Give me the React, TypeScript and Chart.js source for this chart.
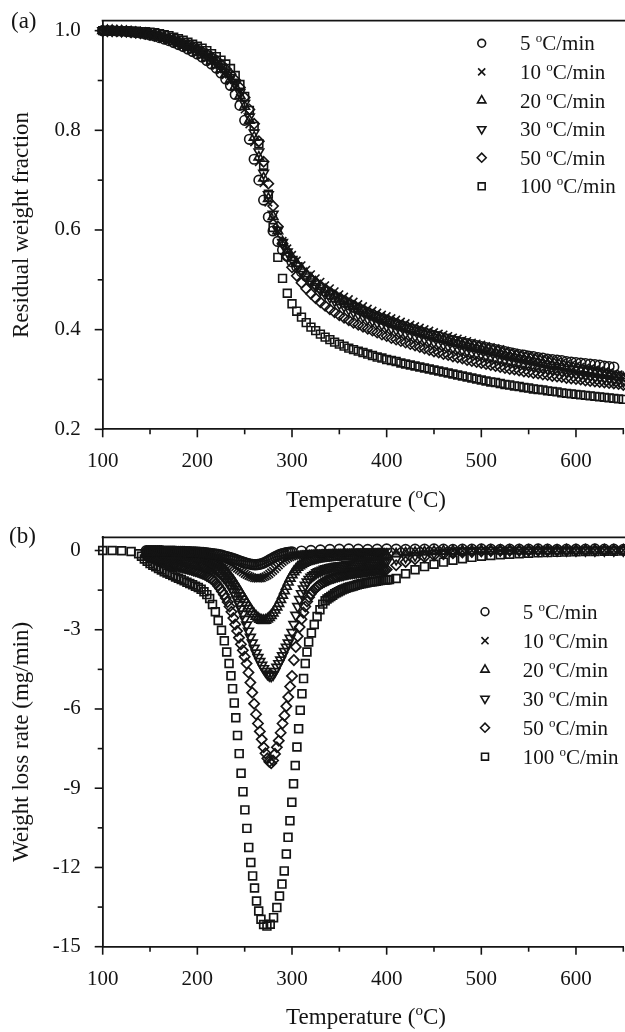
import React, { useEffect, useRef } from 'react';
import { Chart, registerables } from 'chart.js';

Chart.register(...registerables);

// Heating rates (°C/min), one series each
const heatingRates = ['5', '10', '20', '30', '50', '100'];

// ---------- (a) TGA: residual weight fraction, every 5 °C from 100 °C ----------
const tgaStartT = 100;
const tgaStepT = 5;

const tga5 = [
  1.000, 1.000, 1.000, 0.999, 0.999, 0.998, 0.997, 0.996, 0.995, 0.993,
  0.991, 0.989, 0.986, 0.983, 0.980, 0.976, 0.972, 0.968, 0.963, 0.958,
  0.953, 0.947, 0.940, 0.933, 0.925, 0.915, 0.903, 0.890, 0.872, 0.850,
  0.820, 0.782, 0.742, 0.700, 0.660, 0.626, 0.598, 0.577, 0.560, 0.547,
  0.536, 0.526, 0.516, 0.507, 0.499, 0.491, 0.484, 0.477, 0.471, 0.465,
  0.460, 0.455, 0.450, 0.445, 0.441, 0.437, 0.433, 0.429, 0.425, 0.421,
  0.418, 0.414, 0.411, 0.408, 0.405, 0.402, 0.399, 0.396, 0.393, 0.391,
  0.388, 0.386, 0.383, 0.381, 0.378, 0.376, 0.374, 0.372, 0.370, 0.368,
  0.366, 0.364, 0.362, 0.360, 0.358, 0.356, 0.354, 0.352, 0.350, 0.349,
  0.347, 0.346, 0.344, 0.343, 0.341, 0.340, 0.339, 0.338, 0.336, 0.335,
  0.334, 0.333, 0.332, 0.331, 0.330, 0.329, 0.327, 0.326, 0.325,
];

const tga10 = [
  1.000, 1.000, 1.000, 0.999, 0.999, 0.998, 0.997, 0.996, 0.995, 0.994,
  0.992, 0.990, 0.987, 0.984, 0.981, 0.978, 0.974, 0.970, 0.966, 0.961,
  0.956, 0.951, 0.945, 0.938, 0.930, 0.921, 0.911, 0.899, 0.884, 0.865,
  0.842, 0.812, 0.776, 0.736, 0.694, 0.655, 0.622, 0.597, 0.578, 0.563,
  0.550, 0.539, 0.529, 0.520, 0.511, 0.503, 0.496, 0.489, 0.483, 0.477,
  0.471, 0.466, 0.461, 0.456, 0.451, 0.447, 0.442, 0.438, 0.434, 0.430,
  0.427, 0.423, 0.420, 0.416, 0.413, 0.410, 0.407, 0.404, 0.401, 0.398,
  0.395, 0.392, 0.390, 0.387, 0.384, 0.382, 0.379, 0.377, 0.374, 0.372,
  0.370, 0.367, 0.365, 0.363, 0.361, 0.358, 0.356, 0.354, 0.352, 0.350,
  0.348, 0.346, 0.344, 0.342, 0.340, 0.338, 0.336, 0.334, 0.332, 0.330,
  0.328, 0.326, 0.324, 0.322, 0.320, 0.318, 0.316, 0.314, 0.312, 0.310,
  0.309,
];

const tga20 = [
  1.000, 1.000, 1.000, 0.999, 0.999, 0.998, 0.997, 0.996, 0.995, 0.994,
  0.992, 0.990, 0.987, 0.985, 0.982, 0.978, 0.975, 0.971, 0.967, 0.962,
  0.957, 0.952, 0.946, 0.940, 0.932, 0.923, 0.913, 0.902, 0.888, 0.870,
  0.848, 0.820, 0.786, 0.746, 0.704, 0.663, 0.627, 0.598, 0.576, 0.559,
  0.545, 0.533, 0.522, 0.512, 0.503, 0.495, 0.487, 0.480, 0.473, 0.467,
  0.461, 0.456, 0.451, 0.446, 0.441, 0.437, 0.432, 0.428, 0.424, 0.420,
  0.417, 0.413, 0.410, 0.406, 0.403, 0.400, 0.397, 0.394, 0.391, 0.388,
  0.385, 0.382, 0.380, 0.377, 0.374, 0.372, 0.369, 0.367, 0.364, 0.362,
  0.360, 0.357, 0.355, 0.353, 0.351, 0.348, 0.346, 0.344, 0.342, 0.340,
  0.338, 0.336, 0.334, 0.332, 0.330, 0.328, 0.326, 0.325, 0.323, 0.321,
  0.319, 0.318, 0.316, 0.314, 0.313, 0.311, 0.309, 0.308, 0.306, 0.305,
  0.303,
];

const tga30 = [
  1.000, 1.000, 1.000, 1.000, 0.999, 0.999, 0.998, 0.997, 0.996, 0.995,
  0.993, 0.991, 0.989, 0.986, 0.983, 0.980, 0.977, 0.973, 0.969, 0.965,
  0.960, 0.955, 0.949, 0.943, 0.935, 0.927, 0.917, 0.906, 0.893, 0.876,
  0.854, 0.827, 0.795, 0.757, 0.714, 0.671, 0.632, 0.600, 0.575, 0.556,
  0.541, 0.528, 0.516, 0.506, 0.496, 0.487, 0.479, 0.472, 0.465, 0.458,
  0.452, 0.447, 0.441, 0.436, 0.431, 0.427, 0.422, 0.418, 0.414, 0.410,
  0.407, 0.403, 0.400, 0.396, 0.393, 0.390, 0.387, 0.384, 0.381, 0.378,
  0.375, 0.372, 0.370, 0.367, 0.364, 0.362, 0.359, 0.357, 0.354, 0.352,
  0.350, 0.347, 0.345, 0.343, 0.341, 0.339, 0.337, 0.335, 0.333, 0.331,
  0.329, 0.327, 0.325, 0.323, 0.321, 0.320, 0.318, 0.316, 0.315, 0.313,
  0.311, 0.310, 0.308, 0.307, 0.305, 0.304, 0.302, 0.301, 0.299, 0.298,
  0.296,
];

const tga50 = [
  1.000, 1.000, 1.000, 1.000, 0.999, 0.999, 0.998, 0.997, 0.996, 0.995,
  0.994, 0.992, 0.990, 0.987, 0.985, 0.982, 0.979, 0.975, 0.972, 0.968,
  0.963, 0.958, 0.953, 0.947, 0.940, 0.932, 0.923, 0.913, 0.901, 0.886,
  0.866, 0.842, 0.813, 0.778, 0.737, 0.693, 0.648, 0.607, 0.573, 0.546,
  0.525, 0.508, 0.494, 0.482, 0.472, 0.463, 0.455, 0.448, 0.441, 0.435,
  0.429, 0.424, 0.419, 0.414, 0.410, 0.406, 0.402, 0.398, 0.394, 0.390,
  0.387, 0.383, 0.380, 0.377, 0.374, 0.371, 0.368, 0.365, 0.362, 0.359,
  0.356, 0.354, 0.351, 0.349, 0.346, 0.344, 0.342, 0.339, 0.337, 0.335,
  0.333, 0.331, 0.329, 0.327, 0.325, 0.323, 0.321, 0.320, 0.318, 0.316,
  0.315, 0.313, 0.312, 0.310, 0.309, 0.307, 0.306, 0.305, 0.303, 0.302,
  0.301, 0.300, 0.298, 0.297, 0.296, 0.295, 0.294, 0.293, 0.292, 0.291,
  0.289,
];

const tga100 = [
  1.000, 1.000, 1.000, 1.000, 1.000, 1.000, 0.999, 0.999, 0.998, 0.998,
  0.997, 0.996, 0.994, 0.992, 0.990, 0.987, 0.984, 0.981, 0.977, 0.973,
  0.969, 0.965, 0.960, 0.954, 0.948, 0.941, 0.933, 0.924, 0.910, 0.892,
  0.868, 0.840, 0.808, 0.773, 0.730, 0.672, 0.605, 0.545, 0.503, 0.473,
  0.452, 0.437, 0.425, 0.414, 0.405, 0.398, 0.391, 0.385, 0.380, 0.375,
  0.371, 0.367, 0.363, 0.360, 0.357, 0.354, 0.351, 0.348, 0.345, 0.343,
  0.340, 0.338, 0.336, 0.333, 0.331, 0.329, 0.327, 0.325, 0.323, 0.321,
  0.319, 0.317, 0.315, 0.313, 0.311, 0.309, 0.307, 0.305, 0.303, 0.301,
  0.299, 0.297, 0.295, 0.294, 0.292, 0.290, 0.289, 0.287, 0.286, 0.284,
  0.283, 0.281, 0.280, 0.279, 0.277, 0.276, 0.275, 0.273, 0.272, 0.271,
  0.270, 0.269, 0.268, 0.267, 0.266, 0.265, 0.264, 0.263, 0.262, 0.261,
  0.260,
];

// ---------- (b) DTG: weight loss rate (mg/min) ----------
// Dense logging 146–400 °C every 2 °C, thinned to every 10 °C above 400 °C.
const dtgDenseStartT = 146;
const dtgDenseStepT = 2;
const dtgTailStartT = 410;
const dtgTailStepT = 10;
// The 5 °C/min record is dense only up to 300 °C, then every 10 °C from 310 °C.
const dtg5TailStartT = 310;

const dtg5Dense = [
  -0.01, -0.01, -0.01, -0.01, -0.01, -0.01, -0.01, -0.01, -0.01, -0.02,
  -0.02, -0.02, -0.02, -0.02, -0.02, -0.02, -0.03, -0.03, -0.03, -0.03,
  -0.03, -0.04, -0.04, -0.04, -0.05, -0.05, -0.05, -0.06, -0.06, -0.07,
  -0.07, -0.08, -0.09, -0.10, -0.11, -0.12, -0.13, -0.14, -0.15, -0.17,
  -0.18, -0.20, -0.22, -0.24, -0.26, -0.28, -0.31, -0.33, -0.36, -0.38,
  -0.41, -0.43, -0.46, -0.48, -0.50, -0.52, -0.53, -0.54, -0.54, -0.53,
  -0.52, -0.50, -0.47, -0.44, -0.40, -0.36, -0.32, -0.28, -0.24, -0.20,
  -0.17, -0.14, -0.12, -0.10, -0.08, -0.07, -0.06, -0.05,
];
const dtg5Tail = [
  -0.02, 0.00, 0.02, 0.04, 0.05, 0.06, 0.05, 0.04, 0.05, 0.06,
  0.05, 0.04, 0.05, 0.05, 0.06, 0.05, 0.04, 0.05, 0.05, 0.06,
  0.05, 0.04, 0.05, 0.05, 0.05, 0.06, 0.05, 0.04, 0.05, 0.05,
  0.05, 0.06, 0.05, 0.05, 0.04,
];

const dtg10Dense = [
  -0.03, -0.03, -0.03, -0.03, -0.04, -0.04, -0.04, -0.04, -0.04, -0.05,
  -0.05, -0.05, -0.05, -0.06, -0.06, -0.06, -0.06, -0.07, -0.07, -0.07,
  -0.08, -0.08, -0.08, -0.09, -0.09, -0.10, -0.10, -0.11, -0.12, -0.13,
  -0.14, -0.15, -0.16, -0.18, -0.19, -0.21, -0.23, -0.25, -0.27, -0.30,
  -0.33, -0.36, -0.40, -0.44, -0.48, -0.53, -0.58, -0.63, -0.68, -0.73,
  -0.78, -0.83, -0.88, -0.92, -0.96, -0.99, -1.02, -1.04, -1.05, -1.06,
  -1.05, -1.04, -1.01, -0.98, -0.94, -0.89, -0.83, -0.77, -0.70, -0.63,
  -0.56, -0.49, -0.43, -0.37, -0.32, -0.28, -0.25, -0.22, -0.20, -0.18,
  -0.17, -0.16, -0.15, -0.14, -0.13, -0.13, -0.12, -0.12, -0.11, -0.11,
  -0.11, -0.10, -0.10, -0.10, -0.10, -0.09, -0.09, -0.09, -0.09, -0.09,
  -0.08, -0.08, -0.08, -0.08, -0.08, -0.08, -0.07, -0.07, -0.07, -0.07,
  -0.07, -0.07, -0.07, -0.06, -0.06, -0.06, -0.06, -0.06, -0.06, -0.06,
  -0.06, -0.05, -0.05, -0.05, -0.05, -0.05, -0.05, -0.05,
];
const dtg10Tail = [
  -0.04, -0.03, -0.03, -0.02, -0.02, -0.01, -0.01, -0.01, 0.00, 0.00,
  0.00, 0.00, 0.00, 0.00, 0.00, 0.01, 0.01, 0.01, 0.01, 0.01,
  0.01, 0.01, 0.01, 0.01, 0.01,
];

const dtg20Dense = [
  -0.07, -0.08, -0.09, -0.10, -0.10, -0.11, -0.12, -0.13, -0.13, -0.14,
  -0.15, -0.16, -0.17, -0.17, -0.18, -0.19, -0.19, -0.20, -0.21, -0.21,
  -0.22, -0.23, -0.23, -0.24, -0.25, -0.26, -0.27, -0.28, -0.29, -0.30,
  -0.31, -0.33, -0.35, -0.37, -0.40, -0.43, -0.46, -0.50, -0.54, -0.59,
  -0.65, -0.72, -0.79, -0.87, -0.96, -1.06, -1.16, -1.27, -1.38, -1.50,
  -1.62, -1.74, -1.86, -1.98, -2.10, -2.21, -2.32, -2.41, -2.49, -2.56,
  -2.61, -2.64, -2.65, -2.64, -2.60, -2.54, -2.46, -2.37, -2.26, -2.14,
  -2.01, -1.86, -1.70, -1.53, -1.36, -1.20, -1.05, -0.92, -0.81, -0.72,
  -0.64, -0.58, -0.53, -0.49, -0.45, -0.42, -0.40, -0.38, -0.36, -0.34,
  -0.33, -0.32, -0.31, -0.30, -0.29, -0.28, -0.27, -0.27, -0.26, -0.25,
  -0.25, -0.24, -0.24, -0.23, -0.23, -0.22, -0.22, -0.22, -0.21, -0.21,
  -0.21, -0.20, -0.20, -0.20, -0.19, -0.19, -0.19, -0.19, -0.18, -0.18,
  -0.18, -0.18, -0.17, -0.17, -0.17, -0.17, -0.16, -0.16,
];
const dtg20Tail = [
  -0.13, -0.10, -0.08, -0.06, -0.04, -0.03, -0.02, -0.01, -0.01, 0.00,
  0.00, 0.00, 0.00, 0.00, 0.00, 0.00, 0.00, 0.00, 0.01, 0.01,
  0.01, 0.01, 0.01, 0.01, 0.01,
];

const dtg30Dense = [
  -0.13, -0.15, -0.16, -0.18, -0.19, -0.21, -0.22, -0.24, -0.25, -0.26,
  -0.28, -0.29, -0.30, -0.31, -0.32, -0.33, -0.34, -0.35, -0.36, -0.37,
  -0.38, -0.40, -0.41, -0.42, -0.43, -0.45, -0.46, -0.47, -0.49, -0.51,
  -0.53, -0.55, -0.56, -0.59, -0.62, -0.65, -0.70, -0.75, -0.80, -0.87,
  -0.94, -1.02, -1.10, -1.20, -1.31, -1.43, -1.56, -1.70, -1.86, -2.03,
  -2.21, -2.40, -2.60, -2.82, -3.05, -3.28, -3.50, -3.70, -3.88, -4.05,
  -4.20, -4.34, -4.47, -4.58, -4.67, -4.73, -4.75, -4.70, -4.58, -4.42,
  -4.28, -4.14, -3.98, -3.82, -3.66, -3.50, -3.32, -3.10, -2.80, -2.45,
  -2.12, -1.85, -1.63, -1.45, -1.31, -1.19, -1.09, -1.01, -0.95, -0.90,
  -0.84, -0.80, -0.77, -0.74, -0.71, -0.69, -0.67, -0.65, -0.63, -0.62,
  -0.60, -0.59, -0.58, -0.57, -0.56, -0.55, -0.54, -0.53, -0.52, -0.52,
  -0.51, -0.50, -0.50, -0.49, -0.49, -0.48, -0.48, -0.47, -0.47, -0.46,
  -0.46, -0.45, -0.45, -0.45, -0.44, -0.44, -0.44, -0.43,
];
const dtg30Tail = [
  -0.33, -0.25, -0.19, -0.14, -0.10, -0.07, -0.05, -0.03, -0.02, -0.01,
  0.00, 0.00, 0.00, 0.00, 0.00, 0.00, 0.00, 0.00, 0.00, 0.00,
  0.00, 0.00, 0.00, 0.00, 0.00,
];

const dtg50Dense = [
  -0.20, -0.23, -0.26, -0.29, -0.31, -0.34, -0.37, -0.40, -0.42, -0.44,
  -0.47, -0.49, -0.51, -0.53, -0.55, -0.56, -0.58, -0.60, -0.62, -0.64,
  -0.66, -0.68, -0.70, -0.72, -0.74, -0.76, -0.78, -0.80, -0.83, -0.86,
  -0.89, -0.92, -0.96, -1.00, -1.05, -1.10, -1.17, -1.25, -1.34, -1.44,
  -1.55, -1.67, -1.80, -1.95, -2.12, -2.32, -2.56, -2.80, -3.05, -3.30,
  -3.55, -3.78, -4.02, -4.28, -4.62, -5.00, -5.38, -5.80, -6.20, -6.55,
  -6.85, -7.15, -7.45, -7.68, -7.87, -8.00, -8.05, -7.95, -7.70, -7.45,
  -7.20, -6.90, -6.55, -6.25, -5.90, -5.55, -5.15, -4.75, -4.15, -3.65,
  -3.25, -2.90, -2.60, -2.35, -2.12, -1.93, -1.77, -1.64, -1.54, -1.46,
  -1.39, -1.33, -1.28, -1.23, -1.19, -1.15, -1.12, -1.09, -1.06, -1.04,
  -1.01, -0.99, -0.97, -0.95, -0.94, -0.92, -0.91, -0.89, -0.88, -0.87,
  -0.86, -0.85, -0.84, -0.83, -0.82, -0.81, -0.80, -0.79, -0.78, -0.78,
  -0.77, -0.76, -0.75, -0.75, -0.74, -0.73, -0.73, -0.72,
];
const dtg50Tail = [
  -0.56, -0.43, -0.33, -0.25, -0.19, -0.14, -0.10, -0.07, -0.05, -0.03,
  -0.02, -0.01, 0.00, 0.00, 0.00, 0.00, 0.00, 0.00, 0.00, 0.00,
  0.00, 0.00, 0.00, 0.00, 0.00,
];

// 100 °C/min: logged temperatures are uneven through the main peak
const dtg100T = [
  100, 110, 120, 130, 138, 141, 144, 147, 150, 153,
  156, 159, 162, 165, 168, 171, 174, 177, 180, 183,
  186, 189, 192, 195, 198, 201, 204, 207, 210, 213,
  216, 219, 222, 225.5, 228.5, 231, 233.5, 235.5, 237.2, 239,
  240.6, 242.4, 244.2, 246.2, 248.2, 250.2, 252.3, 254.3, 256.5, 258.4,
  260.4, 262.5, 264.8, 267.2, 270, 273.5, 277, 280.5, 284, 286.8,
  289.4, 291.8, 294, 295.8, 297.8, 299.8, 301.6, 303.4, 305.2, 307,
  308.7, 310.5, 312.2, 314, 315.8, 317.6, 320.5, 323.5, 326.5, 329.5,
  332.5, 335, 337, 339, 341, 343, 345, 347, 349, 351,
  353, 355, 357, 359, 361, 363, 365, 367, 369, 371,
  373, 375, 377, 379, 381, 383, 385, 387, 389, 391,
  393, 395, 397, 399, 401, 403, 410, 420, 430, 440,
  450, 460, 470, 480, 490, 500, 510, 520, 530, 540,
  550, 560, 570, 580, 590, 600, 610, 620, 630, 640,
  650,
];
const dtg100 = [
  0.00, 0.00, -0.01, -0.04, -0.12, -0.22, -0.32, -0.41, -0.49, -0.56,
  -0.62, -0.68, -0.74, -0.80, -0.85, -0.90, -0.95, -1.00, -1.05, -1.10,
  -1.15, -1.20, -1.25, -1.30, -1.35, -1.40, -1.47, -1.56, -1.67, -1.82,
  -2.04, -2.32, -2.65, -3.02, -3.42, -3.84, -4.28, -4.74, -5.23, -5.77,
  -6.33, -7.00, -7.69, -8.43, -9.13, -9.82, -10.52, -11.24, -11.81, -12.32,
  -12.78, -13.27, -13.65, -13.96, -14.16, -14.22, -14.15, -13.90, -13.52, -13.08,
  -12.63, -12.13, -11.49, -10.86, -10.23, -9.53, -8.83, -8.14, -7.44, -6.75,
  -6.05, -5.42, -4.85, -4.28, -3.84, -3.46, -3.12, -2.80, -2.50, -2.24,
  -2.03, -1.90, -1.84, -1.79, -1.74, -1.69, -1.64, -1.60, -1.56, -1.52,
  -1.49, -1.46, -1.43, -1.40, -1.38, -1.36, -1.34, -1.32, -1.30, -1.28,
  -1.26, -1.25, -1.23, -1.22, -1.20, -1.19, -1.18, -1.17, -1.16, -1.15,
  -1.14, -1.13, -1.12, -1.12, -1.11, -1.10, -1.06, -0.88, -0.73, -0.61,
  -0.52, -0.44, -0.37, -0.31, -0.26, -0.22, -0.19, -0.16, -0.14, -0.12,
  -0.10, -0.09, -0.08, -0.07, -0.06, -0.05, -0.04, -0.04, -0.03, -0.03,
  -0.02,
];

// Axis ticks
const tempTicks = { min: 100, max: 650, step: 50, labelEvery: 100 };
const tgaTicks = { min: 0.2, max: 1.02, step: 0.1 };
const dtgTicks = { min: -15, max: 0.5, step: 1.5 };

// ---------- drawing styles ----------
const INK = '#141414';
const FONT = '"Liberation Serif", "Times New Roman", serif';
const FONT_SIZE = 21;
const TITLE_SIZE = 23;

type Marker = { style: string; rotation: number; radius: number; legendRadius: number };
const markers: Marker[] = [
  { style: 'circle', rotation: 0, radius: 4.8, legendRadius: 3.9 },
  { style: 'crossRot', rotation: 0, radius: 5.4, legendRadius: 5.0 },
  { style: 'triangle', rotation: 0, radius: 5.6, legendRadius: 4.8 },
  { style: 'triangle', rotation: 180, radius: 5.6, legendRadius: 4.8 },
  { style: 'rectRot', rotation: 0, radius: 5.1, legendRadius: 4.5 },
  { style: 'rect', rotation: 0, radius: 5.5, legendRadius: 4.9 },
];

const seq = (start: number, step: number, n: number) =>
  Array.from({ length: n }, (_, i) => Math.round((start + i * step) * 100) / 100);

function series(i: number, xs: number[], ys: number[], stroke: number) {
  const m = markers[i];
  return {
    label: `${heatingRates[i]} °C/min`,
    data: xs.map((x, k) => ({ x, y: ys[k] })),
    showLine: false,
    clip: false,
    pointStyle: m.style,
    pointRotation: m.rotation,
    pointRadius: m.radius,
    pointHoverRadius: m.radius,
    pointBorderWidth: stroke,
    pointBorderColor: INK,
    pointBackgroundColor: 'rgba(0,0,0,0)',
  };
}

function drawMarker(ctx: CanvasRenderingContext2D, m: Marker, x: number, y: number) {
  const r = m.legendRadius;
  const rad = (m.rotation * Math.PI) / 180;
  ctx.beginPath();
  if (m.style === 'circle') {
    ctx.arc(x, y, r, 0, Math.PI * 2);
  } else if (m.style === 'rect') {
    const s = Math.SQRT1_2 * r;
    ctx.rect(x - s, y - s, 2 * s, 2 * s);
  } else if (m.style === 'rectRot') {
    ctx.moveTo(x - r, y);
    ctx.lineTo(x, y - r);
    ctx.lineTo(x + r, y);
    ctx.lineTo(x, y + r);
    ctx.closePath();
  } else if (m.style === 'triangle') {
    let a = rad;
    ctx.moveTo(x + Math.sin(a) * r, y - Math.cos(a) * r);
    a += (2 * Math.PI) / 3;
    ctx.lineTo(x + Math.sin(a) * r, y - Math.cos(a) * r);
    a += (2 * Math.PI) / 3;
    ctx.lineTo(x + Math.sin(a) * r, y - Math.cos(a) * r);
    ctx.closePath();
  } else if (m.style === 'crossRot') {
    const d = Math.SQRT1_2 * r;
    ctx.moveTo(x - d, y - d);
    ctx.lineTo(x + d, y + d);
    ctx.moveTo(x + d, y - d);
    ctx.lineTo(x - d, y + d);
  }
  ctx.stroke();
}

// Text runs: [text, isSuperscript]
function drawRuns(
  ctx: CanvasRenderingContext2D,
  runs: [string, boolean][],
  x: number,
  baseline: number,
  align: 'left' | 'center',
  size: number,
) {
  const supSize = Math.round(size * 0.64);
  const widths = runs.map(([t, sup]) => {
    ctx.font = `${sup ? supSize : size}px ${FONT}`;
    return ctx.measureText(t).width;
  });
  const total = widths.reduce((a, b) => a + b, 0);
  let cx = align === 'center' ? x - total / 2 : x;
  ctx.textAlign = 'left';
  ctx.textBaseline = 'alphabetic';
  runs.forEach(([t, sup], i) => {
    ctx.font = `${sup ? supSize : size}px ${FONT}`;
    ctx.fillText(t, cx, sup ? baseline - size * 0.38 : baseline);
    cx += widths[i];
  });
}

type Decor = {
  tag: string;
  tagX: number;
  tagBaseline: number;
  legendMarkerX: number;
  legendTextX: number;
  legendTop: number;
  legendGap: number;
  titleBaseline: number;
  isMajorY: (v: number) => boolean;
};

function decorPlugin(d: Decor) {
  return {
    id: 'panelDecor',
    afterDraw(chart: any) {
      const { ctx, chartArea: a } = chart;
      const xs = chart.scales.x;
      const ys = chart.scales.y;
      ctx.save();
      ctx.strokeStyle = INK;
      ctx.fillStyle = INK;

      // frame line along the top
      ctx.lineWidth = 1.7;
      ctx.beginPath();
      ctx.moveTo(a.left - 1, a.top);
      ctx.lineTo(chart.width, a.top);
      ctx.stroke();

      // outward tick marks
      ctx.lineWidth = 1.6;
      xs.ticks.forEach((t: any) => {
        const p = xs.getPixelForValue(t.value);
        const len = t.value % tempTicks.labelEvery === 0 ? 8 : 5;
        ctx.beginPath();
        ctx.moveTo(p, a.bottom);
        ctx.lineTo(p, a.bottom + len);
        ctx.stroke();
      });
      ys.ticks.forEach((t: any) => {
        const p = ys.getPixelForValue(t.value);
        const len = d.isMajorY(t.value) ? 8 : 5;
        ctx.beginPath();
        ctx.moveTo(a.left, p);
        ctx.lineTo(a.left - len, p);
        ctx.stroke();
      });

      // panel tag
      ctx.font = `${TITLE_SIZE}px ${FONT}`;
      ctx.textAlign = 'left';
      ctx.textBaseline = 'alphabetic';
      ctx.fillText(d.tag, d.tagX, d.tagBaseline);

      // x-axis title with superscript o
      drawRuns(
        ctx,
        [['Temperature (', false], ['o', true], ['C)', false]],
        (a.left + a.right) / 2 + 3,
        d.titleBaseline,
        'center',
        TITLE_SIZE,
      );

      // legend
      ctx.lineWidth = 1.6;
      heatingRates.forEach((rate, i) => {
        const y = d.legendTop + i * d.legendGap;
        drawMarker(ctx, markers[i], d.legendMarkerX, y);
        drawRuns(
          ctx,
          [[`${rate} `, false], ['o', true], ['C/min', false]],
          d.legendTextX,
          y + 7,
          'left',
          FONT_SIZE,
        );
      });
      ctx.restore();
    },
  };
}

const tickFont = { family: FONT, size: FONT_SIZE };

function buildConfig(opts: {
  datasets: any[];
  yTicks: { min: number; max: number; step: number };
  yLabel: (v: number) => string;
  yTitle: string;
  padTop: number;
  xHeight: number;
  decor: Decor;
}) {
  return {
    type: 'scatter',
    data: { datasets: opts.datasets },
    options: {
      animation: false,
      responsive: false,
      maintainAspectRatio: false,
      devicePixelRatio: 1,
      events: [],
      layout: { autoPadding: false, padding: { top: opts.padTop, right: 1.7, left: 0, bottom: 0 } },
      plugins: { legend: { display: false }, tooltip: { enabled: false } },
      scales: {
        x: {
          type: 'linear',
          min: tempTicks.min,
          max: tempTicks.max,
          afterFit: (s: any) => {
            s.height = opts.xHeight;
            s.paddingLeft = 0;
            s.paddingRight = 0;
          },
          grid: { display: false, drawTicks: false },
          border: { display: true, color: INK, width: 1.8 },
          ticks: {
            stepSize: tempTicks.step,
            includeBounds: false,
            autoSkip: false,
            maxRotation: 0,
            minRotation: 0,
            padding: 20,
            color: INK,
            font: tickFont,
            callback: (v: number) => (v % tempTicks.labelEvery === 0 ? String(v) : ''),
          },
        },
        y: {
          type: 'linear',
          min: opts.yTicks.min,
          max: opts.yTicks.max,
          afterFit: (s: any) => {
            s.width = 102.7;
            s.paddingTop = 0;
            s.paddingBottom = 0;
          },
          grid: { display: false, drawTicks: false },
          border: { display: true, color: INK, width: 1.8 },
          ticks: {
            stepSize: opts.yTicks.step,
            includeBounds: false,
            autoSkip: false,
            padding: 22,
            color: INK,
            font: tickFont,
            callback: (v: number) => (opts.decor.isMajorY(v) ? opts.yLabel(v) : ''),
          },
          title: {
            display: true,
            text: opts.yTitle,
            color: INK,
            font: { family: FONT, size: TITLE_SIZE },
            padding: { top: 8.5, bottom: 0 },
          },
        },
      },
    },
    plugins: [decorPlugin(opts.decor)],
  };
}

function tgaConfig() {
  const ys = [tga5, tga10, tga20, tga30, tga50, tga100];
  const datasets = ys.map((v, i) => series(i, seq(tgaStartT, tgaStepT, v.length), v, 1.6));
  return buildConfig({
    datasets,
    yTicks: tgaTicks,
    yLabel: (v) => v.toFixed(1),
    yTitle: 'Residual weight fraction',
    padTop: 20.7,
    xHeight: 516 - 429.3,
    decor: {
      tag: '(a)',
      tagX: 11,
      tagBaseline: 28,
      legendMarkerX: 481.7,
      legendTextX: 520,
      legendTop: 43.3,
      legendGap: 28.6,
      titleBaseline: 507,
      isMajorY: (v) => Math.round(v * 10) % 2 === 0,
    },
  });
}

function dtgConfig() {
  const denseT = (n: number) => seq(dtgDenseStartT, dtgDenseStepT, n);
  const tailT = (start: number, n: number) => seq(start, dtgTailStepT, n);
  const join = (a: number[], b: number[]) => a.concat(b);
  const w = 1.7;
  const datasets = [
    series(0, join(denseT(dtg5Dense.length), tailT(dtg5TailStartT, dtg5Tail.length)), join(dtg5Dense, dtg5Tail), w),
    series(1, join(denseT(dtg10Dense.length), tailT(dtgTailStartT, dtg10Tail.length)), join(dtg10Dense, dtg10Tail), w),
    series(2, join(denseT(dtg20Dense.length), tailT(dtgTailStartT, dtg20Tail.length)), join(dtg20Dense, dtg20Tail), w),
    series(3, join(denseT(dtg30Dense.length), tailT(dtgTailStartT, dtg30Tail.length)), join(dtg30Dense, dtg30Tail), w),
    series(4, join(denseT(dtg50Dense.length), tailT(dtgTailStartT, dtg50Tail.length)), join(dtg50Dense, dtg50Tail), w),
    series(5, dtg100T, dtg100, w),
  ];
  return buildConfig({
    datasets,
    yTicks: dtgTicks,
    yLabel: (v) => String(Math.round(v)),
    yTitle: 'Weight loss rate (mg/min)',
    padTop: 21.3,
    xHeight: 516 - 430.7,
    decor: {
      tag: '(b)',
      tagX: 9,
      tagBaseline: 27,
      legendMarkerX: 485,
      legendTextX: 522.7,
      legendTop: 95.7,
      legendGap: 29,
      titleBaseline: 508,
      isMajorY: (v) => Math.round(v / 1.5) % 2 === 0,
    },
  });
}

function Panel({ top, make }: { top: number; make: () => any }) {
  const ref = useRef<HTMLCanvasElement>(null);
  useEffect(() => {
    if (!ref.current) return;
    const chart = new Chart(ref.current, make());
    return () => chart.destroy();
  }, [make]);
  return (
    <canvas
      ref={ref}
      width={625}
      height={516}
      style={{ position: 'absolute', left: 0, top, width: 625, height: 516 }}
    />
  );
}

export default function App() {
  return (
    <div style={{ position: 'absolute', left: 0, top: 0, width: 625, height: 1032, background: '#fff' }}>
      <Panel top={0} make={tgaConfig} />
      <Panel top={516} make={dtgConfig} />
    </div>
  );
}
